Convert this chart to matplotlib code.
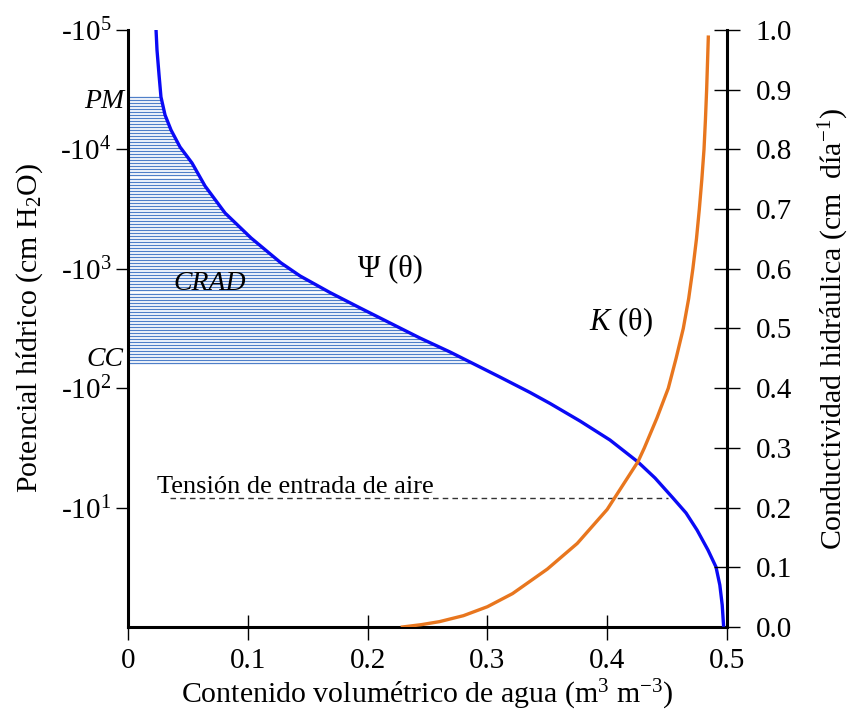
import numpy as np
import matplotlib
matplotlib.use('Agg')
import matplotlib.pyplot as plt

plt.rcParams['font.family'] = ['Liberation Serif', 'DejaVu Serif']
plt.rcParams['mathtext.fontset'] = 'custom'
plt.rcParams['mathtext.rm'] = 'Liberation Serif'
plt.rcParams['mathtext.it'] = 'Liberation Serif:italic'

# curva de retención: theta vs log10(|psi|)
theta_psi = [0.0234, 0.0242, 0.0259, 0.0275, 0.0309, 0.0359, 0.0434, 0.0534, 0.0643,
             0.0810, 0.1027, 0.1277, 0.1436, 0.1686, 0.1937, 0.2187, 0.2437, 0.2688,
             0.2855, 0.3105, 0.3356, 0.3523, 0.3773, 0.4023, 0.4257, 0.4399, 0.4549,
             0.4658, 0.4750, 0.4841, 0.4908, 0.4940, 0.4960, 0.4972]
log_psi = [5.0, 4.832, 4.623, 4.439, 4.288, 4.162, 4.020, 3.886, 3.693,
           3.467, 3.258, 3.049, 2.940, 2.801, 2.672, 2.546, 2.420, 2.303,
           2.219, 2.093, 1.964, 1.872, 1.725, 1.566, 1.382, 1.248, 1.080,
           0.955, 0.812, 0.645, 0.503, 0.352, 0.184, 0.0]

# conductividad hidráulica
theta_k = [0.229, 0.245, 0.26, 0.28, 0.30, 0.321, 0.35, 0.375, 0.40, 0.4257, 0.431,
           0.4415, 0.451, 0.4575, 0.4635, 0.468, 0.4715, 0.4745, 0.4769, 0.479,
           0.4808, 0.482, 0.483, 0.4838, 0.4844]
k_vals = [0.0, 0.004, 0.009, 0.019, 0.034, 0.056, 0.097, 0.14, 0.197, 0.277, 0.30,
          0.35, 0.40, 0.45, 0.50, 0.55, 0.60, 0.65, 0.70, 0.75,
          0.80, 0.85, 0.90, 0.95, 0.988]

log_pm = 4.44
log_cc = 2.21
log_aire = 1.08
theta_aire = [0.035, 0.451]

x_ticks = [0, 0.1, 0.2, 0.3, 0.4, 0.5]
x_labels = ['0', '0.1', '0.2', '0.3', '0.4', '0.5']
y_exps = [1, 2, 3, 4, 5]
k_ticks = [0.0, 0.1, 0.2, 0.3, 0.4, 0.5, 0.6, 0.7, 0.8, 0.9, 1.0]

azul = '#0A0AF5'
naranja = '#E8761E'
rayado = '#4F7FC8'

fig = plt.figure(figsize=(8.5, 7.13), dpi=100)
ax = fig.add_axes([0.1506, 0.1206, 0.7047, 0.8374])
ax2 = ax.twinx()

psi = 10 ** np.array(log_psi)
ax.plot(theta_psi, psi, color=azul, lw=2.4, zorder=3, solid_capstyle='butt')

# rayado horizontal entre CC y PM
niveles = np.linspace(log_cc, log_pm, 89)
x_fin = np.interp(niveles, log_psi[::-1], theta_psi[::-1])
ax.hlines(10 ** niveles, 0, x_fin, color=rayado, lw=0.9, zorder=2)

ax.hlines(10 ** log_aire, theta_aire[0], theta_aire[1], color='#333333', lw=1.0,
          linestyles=(0, (4, 3)), zorder=2)

ax.set_yscale('log')
ax.set_xlim(0, 0.5)
ax.set_ylim(1, 1e5)
ax.set_yticks([10.0 ** e for e in y_exps])
ax.set_yticklabels(['-10$^{%d}$' % e for e in y_exps])
ax.yaxis.set_minor_locator(matplotlib.ticker.NullLocator())
ax.set_xticks(x_ticks)
ax.set_xticklabels(x_labels)

ax2.plot(theta_k, k_vals, color=naranja, lw=2.4, zorder=3)
ax2.set_ylim(0, 1.0)
ax2.set_yticks(k_ticks)
ax2.set_yticklabels(['%.1f' % v for v in k_ticks])

for a in (ax, ax2):
    a.spines['top'].set_visible(False)
    for s in ('left', 'right', 'bottom'):
        a.spines[s].set_linewidth(2.2)
ax.spines['right'].set_visible(False)
ax2.spines['left'].set_visible(False)
ax2.spines['bottom'].set_visible(False)

ax.tick_params(axis='x', direction='inout', length=18, width=1.0, labelsize=21, pad=6)
ax.tick_params(axis='y', direction='out', length=9, width=1.0, labelsize=21, pad=3)
ax2.tick_params(axis='y', direction='inout', length=19, width=1.0, labelsize=21, pad=11)

ax.set_xlabel('Contenido volumétrico de agua (m$^{3}$ m$^{-3}$)', fontsize=21.5, labelpad=3)
ax.set_ylabel('Potencial hídrico (cm H$_{2}$O)', fontsize=21.5, labelpad=11)
ax2.set_ylabel('Conductividad hidráulica (cm  día$^{-1}$)', fontsize=21.5, labelpad=18)

ax.text(-0.003, 10 ** 4.40, 'PM', style='italic', fontsize=20, ha='right', va='center')
ax.text(-0.004, 10 ** 2.24, 'CC', style='italic', fontsize=20, ha='right', va='center')
ax.text(0.068, 10 ** 2.88, 'CRAD', style='italic', fontsize=20, ha='center', va='center')
ax.text(0.219, 10 ** 3.0, 'Ψ (θ)', fontsize=22, ha='center', va='center')
ax.text(0.4115, 10 ** 2.555, '$K$ (θ)', fontsize=22, ha='center', va='center')
ax.text(0.024, 10 ** 1.17, 'Tensión de entrada de aire', fontsize=19, ha='left', va='center')

fig.savefig('out.png', dpi=100)
